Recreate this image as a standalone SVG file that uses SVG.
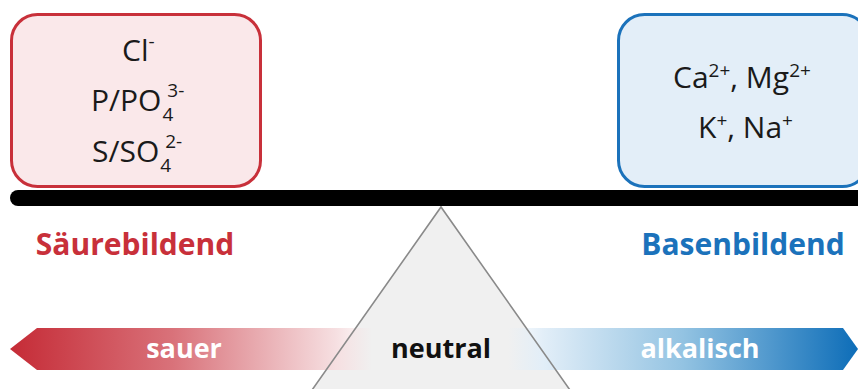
<svg xmlns="http://www.w3.org/2000/svg" width="858" height="389" viewBox="0 0 858 389">
<defs>
<linearGradient id="gRed" x1="10" y1="0" x2="372" y2="0" gradientUnits="userSpaceOnUse">
<stop offset="0" stop-color="#c52b36"/>
<stop offset="0.45" stop-color="#d9727a"/>
<stop offset="0.9" stop-color="#f6dfe1"/>
<stop offset="1" stop-color="#f6dfe1" stop-opacity="0"/>
</linearGradient>
<linearGradient id="gBlue" x1="508" y1="0" x2="858" y2="0" gradientUnits="userSpaceOnUse">
<stop offset="0" stop-color="#e2eef8" stop-opacity="0"/>
<stop offset="0.1" stop-color="#e2eef8"/>
<stop offset="0.5" stop-color="#93c3e2"/>
<stop offset="1" stop-color="#0d6db8"/>
</linearGradient>
<style>
.box text{font-family:"Open Sans","Noto Sans",sans-serif;font-size:30px;fill:#1a1a1a}
.sup{font-size:19px}
.lbl{font-family:"Open Sans","Noto Sans",sans-serif;font-weight:700;font-size:30px;text-anchor:middle}
.bar{font-family:"Open Sans","Noto Sans",sans-serif;font-weight:700;font-size:27px;text-anchor:middle}
</style>
</defs>
<g id="fulcrum">
<polygon points="441,207 305,400 577,400" fill="#f0f0f0"/>
</g>
<g id="scale-arrows">
<polygon points="10,349 37,328 372,328 372,370 37,370" fill="url(#gRed)"/>
<polygon points="508,328 843,328 858,349 843,370 508,370" fill="url(#gBlue)"/>
<text class="bar" x="184" y="358" fill="#ffffff">sauer</text>
<text class="bar" x="700" y="358" fill="#ffffff">alkalisch</text>
<text class="bar" x="441" y="358" fill="#111111">neutral</text>
</g>
<g id="connectors">
<polyline points="305,400 441,207 577,400" fill="none" stroke="#8a8a8a" stroke-width="1.6"/>
</g>
<g id="beam">
<rect x="10" y="190" width="860" height="16" rx="8" fill="#000"/>
</g>
<g id="acid-box" class="box">
<rect x="11.5" y="14.5" width="249" height="172" rx="26" fill="#fae8ea" stroke="#c8303a" stroke-width="3"/>
<text x="122" y="61">Cl<tspan class="sup" dy="-13">-</tspan></text>
<text x="91" y="111">P/PO<tspan class="sup" dx="1" dy="10">4</tspan><tspan class="sup" dx="-6" dy="-24">3-</tspan></text>
<text x="92" y="162">S/SO<tspan class="sup" dx="1" dy="10">4</tspan><tspan class="sup" dx="-6" dy="-24">2-</tspan></text>
</g>
<g id="base-box" class="box">
<rect x="618.5" y="14.5" width="250" height="172" rx="26" fill="#e3eef8" stroke="#1b72bb" stroke-width="3"/>
<text x="673" y="88">Ca<tspan class="sup" dy="-11">2+</tspan><tspan dy="11">, Mg</tspan><tspan class="sup" dy="-11">2+</tspan></text>
<text x="698" y="138">K<tspan class="sup" dy="-11">+</tspan><tspan dy="11">, Na</tspan><tspan class="sup" dy="-11">+</tspan></text>
</g>
<g id="labels">
<text class="lbl" x="135" y="255" fill="#c8303a">Säurebildend</text>
<text class="lbl" x="743" y="255" fill="#1b72bb">Basenbildend</text>
</g>
</svg>
